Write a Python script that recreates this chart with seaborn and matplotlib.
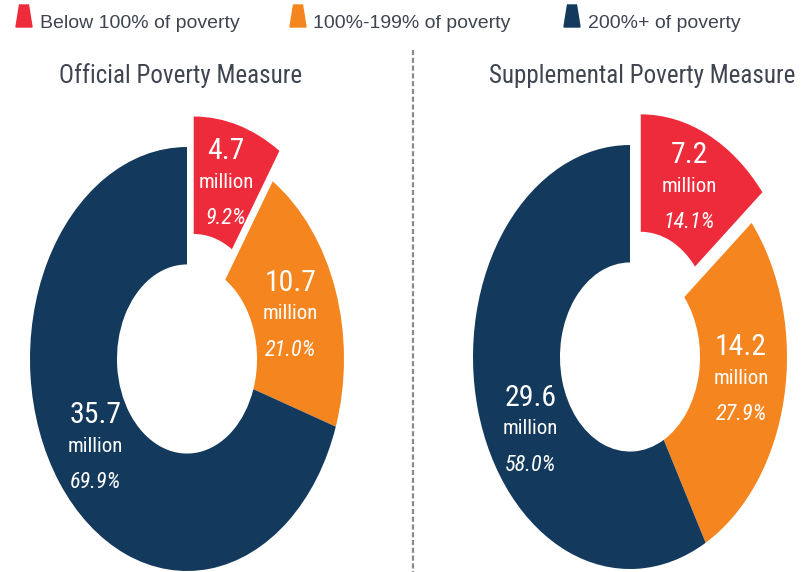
import numpy as np
import matplotlib
matplotlib.use("Agg")
import matplotlib.pyplot as plt
import matplotlib.font_manager as fm
import seaborn as sns
from matplotlib.patches import Polygon
from matplotlib.lines import Line2D

# data
categories = ['Below 100% of poverty', '100%-199% of poverty', '200%+ of poverty']
measures = ['Official Poverty Measure', 'Supplemental Poverty Measure']
official_millions = [4.7, 10.7, 35.7]
official_pct = [9.2, 21.0, 69.9]
supplemental_millions = [7.2, 14.2, 29.6]
supplemental_pct = [14.1, 27.9, 58.0]

sns.set_theme(style='white')

# the chart text is a narrow face; use one if it is installed
installed = {f.name for f in fm.fontManager.ttflist}
narrow = next((n for n in ['Liberation Sans Narrow', 'Arial Narrow', 'Roboto Condensed']
               if n in installed), None)
if narrow:
    plt.rcParams['font.family'] = [narrow, 'Liberation Sans', 'DejaVu Sans']
    sz = dict(title=18, num=21.5, mil=15, pct=16)
else:
    plt.rcParams['font.family'] = ['Liberation Sans', 'DejaVu Sans']
    sz = dict(title=16, num=18.5, mil=12.8, pct=13.6)

colors = sns.color_palette(['#EE2B3A', '#F5861F', '#133A5C'])
text_gray = '#3E4450'

W, H = 811, 572
fig = plt.figure(figsize=(W / 100, H / 100), dpi=100)


def fx(px):
    return px / W


def fy(py):
    # pixel from top -> figure fraction
    return 1 - py / H


def donut(cx, cy, millions, pct, explode_red, title, title_x, nudge):
    rx, ry, lim = 157, 212, 1.25
    ax = fig.add_axes([fx(cx - rx * lim), fy(cy + ry * lim), 2 * rx * lim / W, 2 * ry * lim / H])
    wedges, _ = ax.pie(pct, colors=colors, startangle=90, counterclock=False,
                       explode=[explode_red, 0, 0], radius=1,
                       wedgeprops=dict(width=0.554, linewidth=0))
    ax.set_aspect('auto')
    ax.set_xlim(-lim, lim)
    ax.set_ylim(-lim, lim)
    ax.axis('off')
    for w, m, p, (nx, ny) in zip(wedges, millions, pct, nudge):
        ang = np.deg2rad((w.theta1 + w.theta2) / 2)
        x = w.center[0] + 0.72 * np.cos(ang) + nx / rx
        y = w.center[1] + 0.72 * np.sin(ang) - ny / ry
        ax.annotate(f'{m:.1f}', (x, y), xytext=(0, 22.5), textcoords='offset points',
                    ha='center', va='center', color='white', fontsize=sz['num'])
        ax.annotate('million', (x, y), ha='center', va='center', color='white',
                    fontsize=sz['mil'])
        ax.annotate(f'{p:.1f}%', (x, y), xytext=(0, -26), textcoords='offset points',
                    ha='center', va='center', color='white', fontsize=sz['pct'],
                    style='italic')
    fig.text(fx(title_x), fy(83), title, ha='center', va='baseline',
             fontsize=sz['title'], color=text_gray)


# label nudges in pixels (right, down)
donut(187, 359, official_millions, official_pct, 0.15, measures[0], 181,
      [(0, 0), (-3, 5), (0, -2)])
donut(630, 357, supplemental_millions, supplemental_pct, 0.16, measures[1], 642,
      [(0, -2), (0, -8), (10, 34)])

# dashed divider
fig.add_artist(Line2D([fx(413), fx(413)], [fy(50), 0], color='#8A8A8A', lw=1.6,
                      linestyle=(0, (2.3, 1.2))))

# legend with trapezoid markers
marker_x = [16, 290, 564]
text_x = [40, 313, 588]
for c, lab, mx, tx in zip(colors, categories, marker_x, text_x):
    verts = [(fx(mx), fy(27)), (fx(mx + 16), fy(27)), (fx(mx + 12.5), fy(5)), (fx(mx + 3.5), fy(5))]
    fig.add_artist(Polygon(verts, closed=True, color=c, transform=fig.transFigure))
    fig.text(fx(tx), fy(28), lab, ha='left', va='baseline', fontsize=14,
             family=['Liberation Sans', 'DejaVu Sans'], color=text_gray)

fig.savefig('out.png', dpi=100)
